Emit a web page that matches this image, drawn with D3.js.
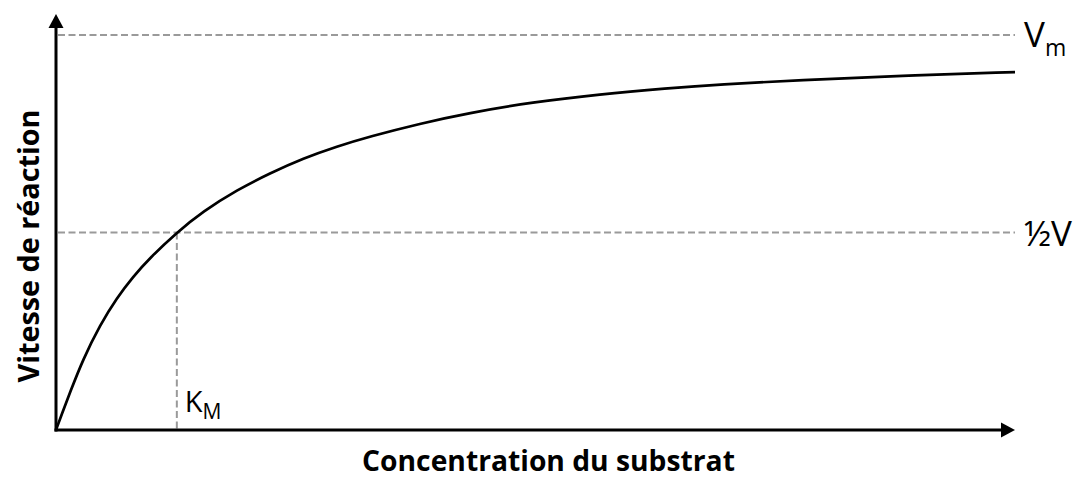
<!DOCTYPE html>
<html>
<head>
<meta charset="utf-8">
<script src="https://cdn.jsdelivr.net/npm/d3@7/dist/d3.min.js"></script>
<style>
  html, body { margin: 0; padding: 0; background: #fff; }
  svg { display: block; }
  text { font-family: "Open Sans", "DejaVu Sans", sans-serif; fill: #000; }
</style>
</head>
<body>
<div id="chart"></div>
<script>
// concentration (arbitrary units, 0..100) and reaction velocity (fraction of Vm)
const concentration = [0, 0.6, 1.46, 2.82, 4.59, 6.36, 8.03, 9.8, 12.6, 15.3, 18.9, 22.3, 25.8, 29.3, 32.7, 38.0, 42.9, 49.7, 56.7, 63.7, 69.2, 77.6, 88.0, 100];
const velocity = [0, 0.04, 0.095, 0.179, 0.266, 0.335, 0.388, 0.436, 0.5, 0.553, 0.608, 0.65, 0.688, 0.718, 0.743, 0.776, 0.802, 0.83, 0.85, 0.865, 0.875, 0.886, 0.897, 0.906];
const vMax = 1;
const halfV = 0.5;
const km = 12.6;
const labels = { x: 'Concentration du substrat', y: 'Vitesse de réaction' };

const W = 1074, H = 478;
const origin = { x: 56, y: 430 };
const xEnd = 1015, yTop = 14;

const svg = d3.select('#chart').append('svg')
    .attr('width', W)
    .attr('height', H);

const x = d3.scaleLinear().domain([0, 100]).range([origin.x, xEnd]);
const y = d3.scaleLinear().domain([0, vMax]).range([origin.y, 35]);

const dash = { stroke: '#9a9a9a', 'stroke-width': 2, 'stroke-dasharray': '7,3.5' };
const applyDash = sel => Object.entries(dash).forEach(([k, v]) => sel.attr(k, v));

// Vm and half-V guides
[vMax, halfV].forEach(v => {
    svg.append('line')
        .attr('x1', x(0) + 2).attr('x2', x(100))
        .attr('y1', y(v)).attr('y2', y(v))
        .call(applyDash);
});
// Km drop line
svg.append('line')
    .attr('x1', x(km)).attr('x2', x(km))
    .attr('y1', y(halfV)).attr('y2', y(0))
    .call(applyDash);

// axes with arrow heads
svg.append('line')
    .attr('x1', origin.x).attr('x2', origin.x)
    .attr('y1', origin.y + 1.5).attr('y2', yTop + 12)
    .attr('stroke', '#000').attr('stroke-width', 3);
svg.append('path')
    .attr('d', `M${origin.x},${yTop} L${origin.x - 7.5},${yTop + 14} L${origin.x + 7.5},${yTop + 14} Z`)
    .attr('fill', '#000');

svg.append('line')
    .attr('x1', origin.x - 1.5).attr('x2', xEnd - 12)
    .attr('y1', origin.y).attr('y2', origin.y)
    .attr('stroke', '#000').attr('stroke-width', 3);
svg.append('path')
    .attr('d', `M${xEnd},${origin.y} L${xEnd - 14},${origin.y - 7.5} L${xEnd - 14},${origin.y + 7.5} Z`)
    .attr('fill', '#000');

// the curve
const pts = concentration.map((c, i) => [c, velocity[i]]);
svg.append('path')
    .datum(pts)
    .attr('fill', 'none')
    .attr('stroke', '#000')
    .attr('stroke-width', 2.7)
    .attr('d', d3.line().x(d => x(d[0])).y(d => y(d[1])).curve(d3.curveBasis));

// labels on the right
const vm = svg.append('text').attr('x', 1024).attr('y', y(vMax) + 12).style('font-size', '35px');
vm.append('tspan').text('V');
vm.append('tspan').attr('dy', 9).style('font-size', '23px').text('m');

svg.append('text')
    .attr('x', 1024).attr('y', y(halfV) + 13)
    .style('font-size', '35px')
    .text('½V');

const kmText = svg.append('text').attr('x', x(km) + 8).attr('y', 412).style('font-size', '29px');
kmText.append('tspan').text('K');
kmText.append('tspan').attr('dy', 7).style('font-size', '21px').text('M');

// axis titles, fitted to the widths seen in the picture
function fit(sel, target) {
    const len = sel.node().getComputedTextLength();
    const fs = parseFloat(sel.style('font-size'));
    sel.style('font-size', (fs * target / len) + 'px');
}

const xt = svg.append('text')
    .attr('x', (362 + 735) / 2).attr('y', 471)
    .attr('text-anchor', 'middle')
    .style('font-size', '25px').style('font-weight', 'bold')
    .text(labels.x);
fit(xt, 373);

const yt = svg.append('text')
    .attr('transform', 'translate(39,246) rotate(-90)')
    .attr('text-anchor', 'middle')
    .style('font-size', '25px').style('font-weight', 'bold')
    .text(labels.y);
fit(yt, 273);
</script>
</body>
</html>
